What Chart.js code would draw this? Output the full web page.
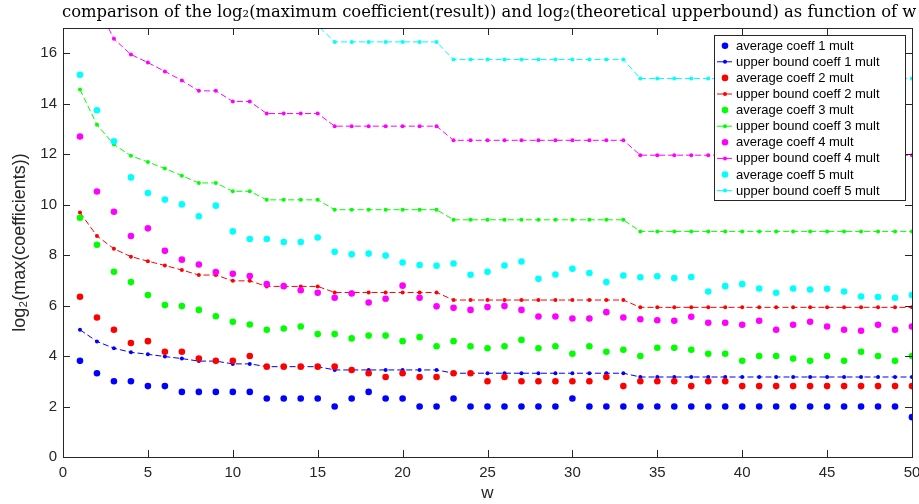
<!DOCTYPE html>
<html>
<head>
<meta charset="utf-8">
<script src="https://cdn.jsdelivr.net/npm/chart.js@4"></script>
<style>
  html, body { margin: 0; padding: 0; background: #fff; }
  #wrap { width: 919px; height: 504px; }
</style>
</head>
<body>
<div id="wrap"><canvas id="myChart" width="919" height="504"></canvas></div>
<script>
// w values (x axis)
const wValues = [1, 2, 3, 4, 5, 6, 7, 8, 9, 10, 11, 12, 13, 14, 15, 16, 17, 18, 19, 20,
    21, 22, 23, 24, 25, 26, 27, 28, 29, 30, 31, 32, 33, 34, 35, 36, 37, 38, 39, 40,
    41, 42, 43, 44, 45, 46, 47, 48, 49, 50];

const avg1 = [3.81, 3.32, 3.0, 3.0, 2.81, 2.81, 2.58, 2.58, 2.58, 2.58,
    2.58, 2.32, 2.32, 2.32, 2.32, 2.0, 2.32, 2.58, 2.32, 2.32,
    2.0, 2.0, 2.32, 2.0, 2.0, 2.0, 2.0, 2.0, 2.0, 2.32,
    2.0, 2.0, 2.0, 2.0, 2.0, 2.0, 2.0, 2.0, 2.0, 2.0,
    2.0, 2.0, 2.0, 2.0, 2.0, 2.0, 2.0, 2.0, 2.0, 1.58];
const upper1 = [5.04, 4.58, 4.31, 4.15, 4.07, 3.98, 3.90, 3.80, 3.80, 3.69,
    3.69, 3.58, 3.58, 3.58, 3.58, 3.45, 3.45, 3.45, 3.45, 3.45,
    3.45, 3.45, 3.32, 3.32, 3.32, 3.32, 3.32, 3.32, 3.32, 3.32,
    3.32, 3.32, 3.32, 3.17, 3.17, 3.17, 3.17, 3.17, 3.17, 3.17,
    3.17, 3.17, 3.17, 3.17, 3.17, 3.17, 3.17, 3.17, 3.17, 3.17];

const avg2 = [6.35, 5.53, 5.04, 4.52, 4.59, 4.17, 4.17, 3.90, 3.81, 3.81,
    4.0, 3.58, 3.58, 3.58, 3.58, 3.58, 3.45, 3.32, 3.17, 3.32,
    3.17, 3.17, 3.32, 3.32, 3.0, 3.17, 3.0, 3.0, 3.0, 3.0,
    3.0, 3.17, 2.81, 3.0, 3.0, 3.0, 2.81, 3.0, 3.0, 2.81,
    2.81, 2.81, 2.81, 2.81, 2.81, 2.81, 2.81, 2.81, 2.81, 2.81];
const upper2 = [9.69, 8.76, 8.25, 7.94, 7.76, 7.59, 7.41, 7.21, 7.21, 6.98,
    6.98, 6.76, 6.76, 6.76, 6.76, 6.52, 6.52, 6.52, 6.52, 6.52,
    6.52, 6.52, 6.22, 6.22, 6.22, 6.22, 6.22, 6.22, 6.22, 6.22,
    6.22, 6.22, 6.22, 5.93, 5.93, 5.93, 5.93, 5.93, 5.93, 5.93,
    5.93, 5.93, 5.93, 5.93, 5.93, 5.93, 5.93, 5.93, 5.93, 5.93];

const avg3 = [9.48, 8.41, 7.34, 6.93, 6.42, 6.02, 5.98, 5.83, 5.58, 5.36,
    5.25, 5.04, 5.09, 5.17, 4.87, 4.87, 4.70, 4.81, 4.81, 4.59,
    4.75, 4.39, 4.59, 4.39, 4.31, 4.39, 4.64, 4.31, 4.39, 4.09,
    4.39, 4.17, 4.25, 4.0, 4.33, 4.33, 4.25, 4.09, 4.09, 3.81,
    4.0, 4.0, 3.90, 3.81, 4.0, 3.81, 4.17, 4.0, 3.81, 4.0];
const upper3 = [14.56, 13.17, 12.38, 11.94, 11.69, 11.43, 11.15, 10.86, 10.86, 10.53,
    10.53, 10.19, 10.19, 10.19, 10.19, 9.80, 9.80, 9.80, 9.80, 9.80,
    9.80, 9.80, 9.40, 9.40, 9.40, 9.40, 9.40, 9.40, 9.40, 9.40,
    9.40, 9.40, 9.40, 8.94, 8.94, 8.94, 8.94, 8.94, 8.94, 8.94,
    8.94, 8.94, 8.94, 8.94, 8.94, 8.94, 8.94, 8.94, 8.94, 8.94];

const avg4 = [12.70, 10.52, 9.72, 8.76, 9.06, 8.17, 7.82, 7.63, 7.33, 7.26,
    7.17, 6.85, 6.77, 6.61, 6.51, 6.31, 6.48, 6.12, 6.27, 6.79,
    6.31, 5.97, 5.91, 5.83, 5.94, 5.98, 5.83, 5.57, 5.57, 5.49,
    5.49, 5.74, 5.53, 5.46, 5.42, 5.40, 5.56, 5.32, 5.32, 5.24,
    5.40, 5.04, 5.24, 5.36, 5.17, 5.04, 5.0, 5.24, 5.04, 5.17];
const upper4 = [19.6, 17.9, 16.57, 15.95, 15.63, 15.28, 14.92, 14.51, 14.51, 14.09,
    14.09, 13.61, 13.61, 13.61, 13.61, 13.11, 13.11, 13.11, 13.11, 13.11,
    13.11, 13.11, 12.55, 12.55, 12.55, 12.55, 12.55, 12.55, 12.55, 12.55,
    12.55, 12.55, 12.55, 11.96, 11.96, 11.96, 11.96, 11.96, 11.96, 11.96,
    11.96, 11.96, 11.96, 11.96, 11.96, 11.96, 11.96, 11.96, 11.96, 11.96];

const avg5 = [15.15, 13.74, 12.51, 11.08, 10.46, 10.20, 10.01, 9.54, 9.96, 8.94,
    8.64, 8.64, 8.52, 8.52, 8.70, 8.13, 8.03, 8.06, 7.98, 7.71,
    7.61, 7.58, 7.67, 7.22, 7.34, 7.59, 7.75, 7.06, 7.23, 7.46,
    7.29, 6.93, 7.19, 7.12, 7.16, 7.09, 7.13, 6.56, 6.77, 6.85,
    6.68, 6.51, 6.68, 6.64, 6.67, 6.56, 6.36, 6.34, 6.31, 6.42];
const upper5 = [24.6, 22.6, 20.76, 19.96, 19.57, 19.13, 18.69, 18.16, 18.16, 17.65,
    17.65, 17.1, 17.1, 17.1, 17.1, 16.45, 16.45, 16.45, 16.45, 16.45,
    16.45, 16.45, 15.75, 15.75, 15.75, 15.75, 15.75, 15.75, 15.75, 15.75,
    15.75, 15.75, 15.75, 15.0, 15.0, 15.0, 15.0, 15.0, 15.0, 15.0,
    15.0, 15.0, 15.0, 15.0, 15.0, 15.0, 15.0, 15.0, 15.0, 15.0];

const xTicks = [0, 5, 10, 15, 20, 25, 30, 35, 40, 45, 50];
const yTicks = [0, 2, 4, 6, 8, 10, 12, 14, 16];

const titleText = "comparison of the log\u2082(maximum coefficient(result)) and log\u2082(theoretical upperbound) as function of w";
const axisColor = "#262626";

const seriesColors = ["#0000ff", "#ff0000", "#00ff00", "#ff00ff", "#00ffff"];
const avgSeries = [avg1, avg2, avg3, avg4, avg5];
const upperSeries = [upper1, upper2, upper3, upper4, upper5];

function toPoints(arr) {
    return arr.map(function(v, i) { return { x: wValues[i], y: v }; });
}

const datasets = [];
for (let k = 0; k < 5; k++) {
    datasets.push({
        label: "average coeff " + (k + 1) + " mult",
        data: toPoints(avgSeries[k]),
        showLine: false,
        pointRadius: 3.3,
        pointBackgroundColor: seriesColors[k],
        pointBorderWidth: 0,
        borderColor: seriesColors[k],
        backgroundColor: seriesColors[k]
    });
    datasets.push({
        label: "upper bound coeff " + (k + 1) + " mult",
        data: toPoints(upperSeries[k]),
        showLine: true,
        borderColor: seriesColors[k],
        backgroundColor: seriesColors[k],
        borderWidth: 1,
        borderDash: [6, 3],
        pointRadius: 2,
        pointBorderWidth: 0,
        pointBackgroundColor: seriesColors[k]
    });
}
// later series drawn on top, like the original plot
datasets.forEach(function(d, i) { d.order = 20 - i; });

// title, box with inward ticks, legend
const decorPlugin = {
    id: "decor",
    afterDraw(chart) {
        const ctx = chart.ctx;
        const a = chart.chartArea;
        const xs = chart.scales.x;
        const ys = chart.scales.y;
        ctx.save();

        // title, sized so it runs from the left axis edge past the right side
        ctx.fillStyle = "#000";
        ctx.font = "16px 'DejaVu Serif', serif";
        const tw = ctx.measureText(titleText).width;
        const fs = 16 * 855 / tw;
        ctx.font = fs.toFixed(2) + "px 'DejaVu Serif', serif";
        ctx.textAlign = "left";
        ctx.textBaseline = "middle";
        ctx.fillText(titleText, 62, 13);

        // box
        ctx.strokeStyle = axisColor;
        ctx.lineWidth = 1;
        ctx.strokeRect(Math.round(a.left) + 0.5, Math.round(a.top) + 0.5,
            Math.round(a.right - a.left), Math.round(a.bottom - a.top));

        // inward ticks
        const tl = 7;
        ctx.beginPath();
        xTicks.forEach(function(v) {
            const px = Math.round(xs.getPixelForValue(v)) + 0.5;
            ctx.moveTo(px, a.bottom); ctx.lineTo(px, a.bottom - tl);
            ctx.moveTo(px, a.top); ctx.lineTo(px, a.top + tl);
        });
        yTicks.forEach(function(v) {
            const py = Math.round(ys.getPixelForValue(v)) + 0.5;
            ctx.moveTo(a.left, py); ctx.lineTo(a.left + tl, py);
            ctx.moveTo(a.right, py); ctx.lineTo(a.right - tl, py);
        });
        ctx.stroke();

        // legend
        const lx = 714.5, ly = 35.5, lw = 191, lh = 165;
        ctx.fillStyle = "#fff";
        ctx.fillRect(lx, ly, lw, lh);
        ctx.strokeStyle = axisColor;
        ctx.strokeRect(lx, ly, lw, lh);
        ctx.font = "13px 'Liberation Sans', Arial, sans-serif";
        ctx.textAlign = "left";
        ctx.textBaseline = "middle";
        chart.data.datasets.forEach(function(d, i) {
            const cy = 45.7 + i * 16.1;
            ctx.fillStyle = d.borderColor;
            ctx.strokeStyle = d.borderColor;
            if (d.showLine) {
                ctx.lineWidth = 1;
                ctx.beginPath();
                ctx.moveTo(717, cy); ctx.lineTo(732, cy);
                ctx.stroke();
                ctx.beginPath();
                ctx.arc(725, cy, 2, 0, Math.PI * 2);
                ctx.fill();
            } else {
                ctx.beginPath();
                ctx.arc(725, cy, 3.3, 0, Math.PI * 2);
                ctx.fill();
            }
            ctx.fillStyle = "#000";
            ctx.fillText(d.label, 736, cy + 0.5);
        });
        ctx.restore();
    }
};

const ctx = document.getElementById("myChart").getContext("2d");
const myChart = new Chart(ctx, {
    type: "scatter",
    data: { datasets: datasets },
    options: {
        responsive: false,
        animation: false,
        layout: { padding: { top: 28, right: 7, left: 0, bottom: 0 } },
        plugins: {
            legend: { display: false },
            tooltip: { enabled: false },
            title: { display: false }
        },
        scales: {
            x: {
                type: "linear",
                min: 0,
                max: 50,
                grid: { display: false, drawTicks: false },
                border: { display: false },
                ticks: {
                    stepSize: 5,
                    padding: 7,
                    color: axisColor,
                    maxRotation: 0,
                    font: { family: "'Liberation Sans', Arial, sans-serif", size: 15 }
                },
                title: {
                    display: true,
                    text: "w",
                    color: axisColor,
                    padding: { top: 0, bottom: 0 },
                    font: { family: "'Liberation Sans', Arial, sans-serif", size: 17 }
                },
                afterFit: function(s) { s.height = 47; s.paddingLeft = 0; s.paddingRight = 0; }
            },
            y: {
                type: "linear",
                min: 0,
                max: 17,
                grid: { display: false, drawTicks: false },
                border: { display: false },
                ticks: {
                    stepSize: 2,
                    includeBounds: false,
                    padding: 6,
                    color: axisColor,
                    font: { family: "'Liberation Sans', Arial, sans-serif", size: 15 }
                },
                title: {
                    display: true,
                    text: "log\u2082(max(coefficients))",
                    color: axisColor,
                    padding: { top: 9, bottom: 0 },
                    font: { family: "'Liberation Sans', Arial, sans-serif", size: 18 }
                },
                afterFit: function(s) { s.width = 63; s.paddingTop = 0; s.paddingBottom = 0; }
            }
        }
    },
    plugins: [decorPlugin]
});
</script>
</body>
</html>
